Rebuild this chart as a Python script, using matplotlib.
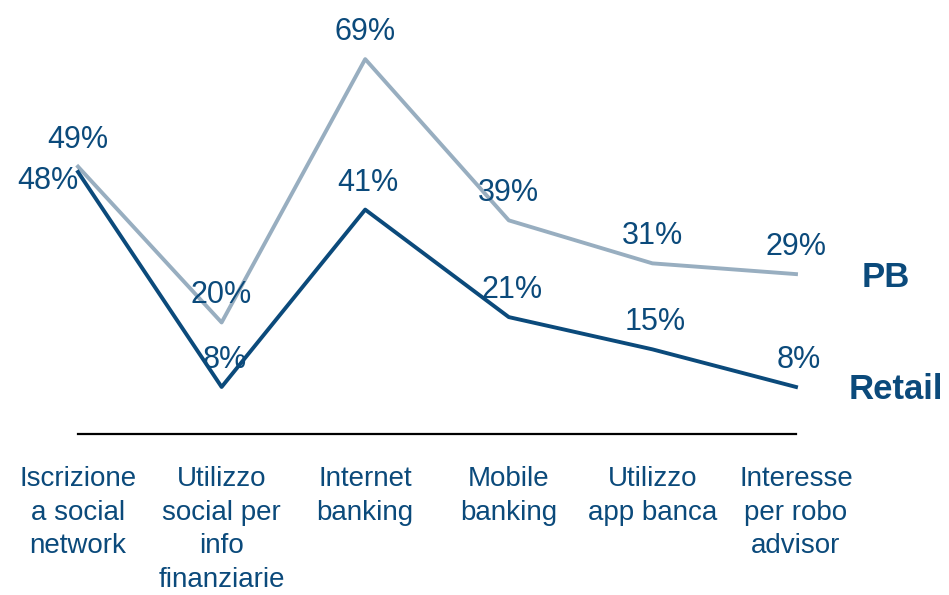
import matplotlib
matplotlib.use("Agg")
import matplotlib.pyplot as plt

# Data
categories = [
    "Iscrizione\na social\nnetwork",
    "Utilizzo\nsocial per\ninfo\nfinanziarie",
    "Internet\nbanking",
    "Mobile\nbanking",
    "Utilizzo\napp banca",
    "Interesse\nper robo\nadvisor",
]
pb_values = [49, 20, 69, 39, 31, 29]
retail_values = [48, 8, 41, 21, 15, 8]

dark_blue = "#0B4A7B"
light_blue = "#98AEC0"

plt.rcParams["font.family"] = ["Liberation Sans", "DejaVu Sans"]

fig = plt.figure(figsize=(9.49, 5.95), dpi=100)
ax = fig.add_axes([78 / 949, (595 - 434) / 595, (796 - 78) / 949, 434 / 595])

x = list(range(len(categories)))

# Lines
ax.plot(x, pb_values, color=light_blue, linewidth=2.8, clip_on=False)
ax.plot(x, retail_values, color=dark_blue, linewidth=2.8, clip_on=False)

# Value labels
for xi, v in zip(x, pb_values):
    ax.annotate(f"{v}%", (xi, v), xytext=(0, 27), textcoords="offset pixels",
                ha="center", va="center", fontsize=22, color=dark_blue)

for xi, v in zip(x, retail_values):
    if xi == 0:
        ax.annotate(f"{v}%", (xi, v), xytext=(0, -9), textcoords="offset pixels",
                    ha="right", va="center", fontsize=22, color=dark_blue)
    else:
        ax.annotate(f"{v}%", (xi, v), xytext=(3, 27), textcoords="offset pixels",
                    ha="center", va="center", fontsize=22, color=dark_blue)

# Series names
ax.annotate("PB", (x[-1], pb_values[-1]), xytext=(90, -3), textcoords="offset pixels",
            ha="center", va="center", fontsize=25, fontweight="bold", color=dark_blue)
ax.annotate("Retail", (x[-1], retail_values[-1]), xytext=(100, -3), textcoords="offset pixels",
            ha="center", va="center", fontsize=25, fontweight="bold", color=dark_blue)

# Axes styling
ax.set_xlim(0, 5)
ax.set_ylim(-0.75, 80)
ax.set_xticks(x)
ax.set_xticklabels(categories, fontsize=20, color=dark_blue, linespacing=1.38,
                   multialignment="center")
ax.tick_params(axis="x", length=0, pad=23)
ax.set_yticks([])
for side in ["left", "right", "top"]:
    ax.spines[side].set_visible(False)
ax.spines["bottom"].set_color("black")
ax.spines["bottom"].set_linewidth(1.6)

fig.savefig("out.png", dpi=100)
